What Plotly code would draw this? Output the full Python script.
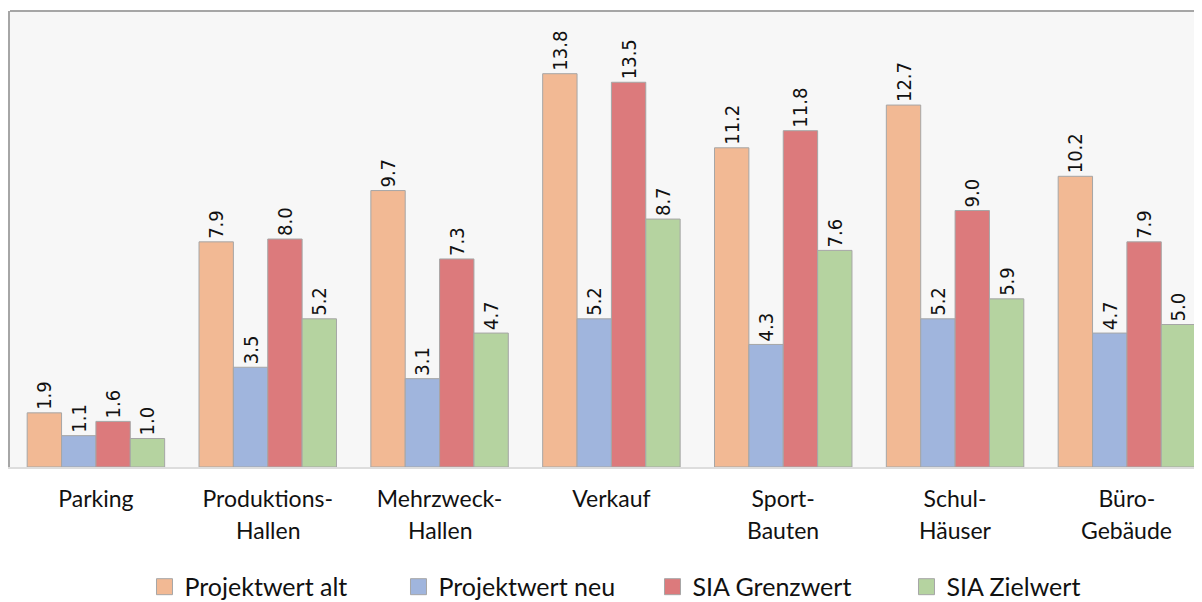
import plotly.graph_objects as go

categories = ["Parking", "Produktions-", "Mehrzweck-", "Verkauf", "Sport-", "Schul-", "Büro-"]
categories_line2 = ["", "Hallen", "Hallen", "", "Bauten", "Häuser", "Gebäude"]

projektwert_alt = [1.9, 7.9, 9.7, 13.8, 11.2, 12.7, 10.2]
projektwert_neu = [1.1, 3.5, 3.1, 5.2, 4.3, 5.2, 4.7]
sia_grenzwert = [1.6, 8.0, 7.3, 13.5, 11.8, 9.0, 7.9]
sia_zielwert = [1.0, 5.2, 4.7, 8.7, 7.6, 5.9, 5.0]

series = [
    ("Projektwert alt", projektwert_alt, "#F2B994"),
    ("Projektwert neu", projektwert_neu, "#A0B5DD"),
    ("SIA Grenzwert", sia_grenzwert, "#DC7A7C"),
    ("SIA Zielwert", sia_zielwert, "#B5D3A0"),
]

x_idx = list(range(len(categories)))
OUTLINE = "#A6A6A6"
TXT = "#111111"

fig = go.Figure()
for name, vals, col in series:
    fig.add_trace(go.Bar(
        x=x_idx, y=vals, name=name, showlegend=False,
        marker=dict(color=col, line=dict(color=OUTLINE, width=1)),
        text=[f"{v:.1f}" for v in vals],
        textposition="outside", textangle=-90, constraintext="none",
        textfont=dict(family="Liberation Sans Narrow, Arial Narrow, DejaVu Sans Condensed",
                      size=20, color=TXT),
        cliponaxis=False,
    ))
# legend entries (square swatches)
for name, vals, col in series:
    fig.add_trace(go.Scatter(
        x=[None], y=[None], mode="markers", name=name,
        marker=dict(symbol="square", size=18, color=col, line=dict(color=OUTLINE, width=1)),
    ))

annotations = []
for i, t in enumerate(categories_line2):
    if t:
        annotations.append(dict(
            x=i, y=0, xref="x", yref="y", text=t, showarrow=False,
            yshift=-63, font=dict(family="Lato", size=23, color=TXT),
        ))

fig.update_layout(
    width=1194, height=594,
    margin=dict(l=2, r=0, t=3, b=135, autoexpand=False),
    paper_bgcolor="white", plot_bgcolor="#F7F7F7",
    barmode="group", bargap=0.2, bargroupgap=0,
    showlegend=True,
    legend=dict(orientation="h", x=0.539, xanchor="center", y=-0.263, yanchor="middle",
                font=dict(family="Lato", size=25, color=TXT),
                entrywidth=209, entrywidthmode="pixels", itemclick=False, itemdoubleclick=False),
    annotations=annotations,
    shapes=[dict(type="line", xref="paper", yref="paper", x0=0, x1=1, y0=1, y1=1,
                 line=dict(color=OUTLINE, width=2))],
    xaxis=dict(range=[-0.5, 6.437], tickvals=x_idx, ticktext=categories,
               tickfont=dict(family="Lato", size=23, color=TXT), ticklabelstandoff=10,
               showline=True, linecolor="#DDDDDD", linewidth=2, ticks="",
               showgrid=False, zeroline=False, fixedrange=True),
    yaxis=dict(range=[0, 16], showticklabels=False, showgrid=False, zeroline=False,
               showline=True, linecolor=OUTLINE, linewidth=2, ticks="", fixedrange=True),
)

fig.write_html("out.html")
